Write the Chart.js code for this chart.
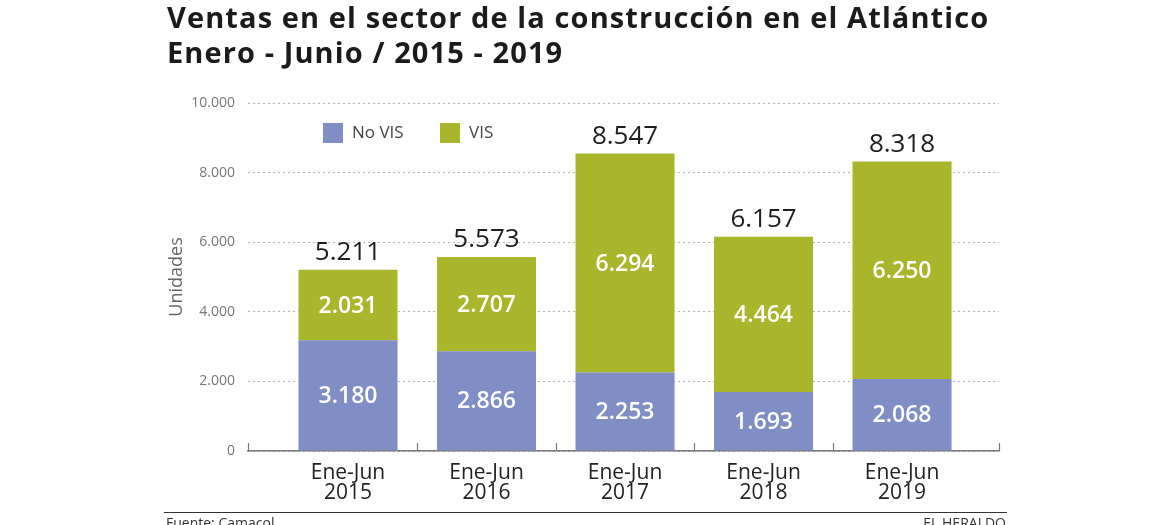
<!DOCTYPE html>
<html>
<head>
<meta charset="utf-8">
<script src="https://cdn.jsdelivr.net/npm/chart.js@4.4.1/dist/chart.umd.min.js"></script>
<style>
  html, body { margin:0; padding:0; background:#fff; width:1170px; height:525px; overflow:hidden; }
  #wrap { position:relative; width:1170px; height:525px; }
  #c { position:absolute; left:0; top:0; }
  .title { position:absolute; left:167px; font-family:"Open Sans", sans-serif; font-weight:700; font-size:29px; letter-spacing:1.1px; color:#1b1b1b; white-space:nowrap; line-height:35px; }
  .foot { position:absolute; top:512px; left:164px; width:843px; height:0; border-top:1.5px solid #333; }
  .src { position:absolute; top:513px; font-family:"Open Sans", sans-serif; font-size:14px; color:#333; }
</style>
</head>
<body>
<div id="wrap">
  <canvas id="c" width="1170" height="525"></canvas>
  <div class="title" id="t" style="top:-1px;">Ventas en el sector de la construcción en el Atlántico<br>Enero - Junio / 2015 - 2019</div>
  <div class="foot"></div>
  <div class="src" style="left:166px;">Fuente: Camacol</div>
  <div class="src" style="right:164px;">EL HERALDO</div>
</div>
<script>
const categories = [["Ene-Jun","2015"],["Ene-Jun","2016"],["Ene-Jun","2017"],["Ene-Jun","2018"],["Ene-Jun","2019"]];
const noVIS = [3180, 2866, 2253, 1693, 2068];
const vis = [2031, 2707, 6294, 4464, 6250];
const yTicks = [0, 2000, 4000, 6000, 8000, 10000];

function fmt(n){ return String(n).replace(/\B(?=(\d{3})+(?!\d))/g, "."); }

const X_MIN = -0.722, X_MAX = 4.70;

const boundaryTicks = {
  id:'boundaryTicks',
  afterDraw(chart){
    const ctx = chart.ctx, xs = chart.scales.x, ys = chart.scales.y;
    const y0 = ys.getPixelForValue(0);
    ctx.save();
    ctx.strokeStyle = '#777'; ctx.lineWidth = 1.2;
    const vals = [X_MIN];
    for (let i=0;i<categories.length-1;i++) vals.push(i+0.5);
    vals.push(X_MAX);
    vals.forEach(v=>{
      const px = Math.round(xs.getPixelForValue(v))+0.5;
      ctx.beginPath(); ctx.moveTo(px, y0); ctx.lineTo(px, y0-8); ctx.stroke();
    });
    ctx.restore();
  }
};

const labelsPlugin = {
  id:'valLabels',
  afterDatasetsDraw(chart){
    const ctx = chart.ctx;
    ctx.save();
    ctx.textAlign = 'center'; ctx.textBaseline = 'middle';
    chart.data.datasets.forEach((ds, di)=>{
      const meta = chart.getDatasetMeta(di);
      meta.data.forEach((bar, i)=>{
        const top = Math.min(bar.y, bar.base), bot = Math.max(bar.y, bar.base);
        ctx.fillStyle = '#ffffff';
        ctx.font = '600 23px "Open Sans", sans-serif';
        ctx.fillText(fmt(ds.data[i].y), bar.x, (top+bot)/2 + 1);
      });
    });
    const last = chart.getDatasetMeta(chart.data.datasets.length-1);
    ctx.fillStyle = '#1e1e1e';
    ctx.font = '400 26px "Open Sans", sans-serif';
    ctx.textBaseline = 'alphabetic';
    last.data.forEach((bar, i)=>{
      const total = noVIS[i] + vis[i];
      ctx.fillText(fmt(total), bar.x, Math.min(bar.y, bar.base) - 10);
    });
    ctx.restore();
  }
};

const legendPlugin = {
  id:'inLegend',
  afterDraw(chart){
    const ctx = chart.ctx, a = chart.chartArea;
    ctx.save();
    ctx.font = '400 17px "Open Sans", sans-serif';
    ctx.textBaseline = 'middle'; ctx.textAlign = 'left';
    let x = a.left + 75;
    const y = a.top + 20;
    chart.data.datasets.forEach(ds=>{
      ctx.fillStyle = ds.backgroundColor;
      ctx.fillRect(x, y, 20, 20);
      ctx.fillStyle = '#444';
      ctx.fillText(ds.label, x + 29, y + 10);
      x += 117;
    });
    ctx.restore();
  }
};

new Chart(document.getElementById('c'), {
  type:'bar',
  data:{
    datasets:[
      { label:'No VIS', data: noVIS.map((v,i)=>({x:i, y:v})), backgroundColor:'#7f8ec4', barPercentage:0.715, categoryPercentage:1 },
      { label:'VIS', data: vis.map((v,i)=>({x:i, y:v})), backgroundColor:'#a9b52a', barPercentage:0.715, categoryPercentage:1 }
    ]
  },
  options:{
    responsive:false, animation:false, devicePixelRatio:1,
    layout:{ padding:{ left:160, right:171, top:103, bottom:0 } },
    plugins:{ legend:{display:false}, tooltip:{enabled:false}, title:{display:false} },
    scales:{
      x:{
        type:'linear', stacked:true, min:X_MIN, max:X_MAX, offset:false,
        afterBuildTicks(s){ s.ticks = categories.map((c,i)=>({value:i})); },
        afterFit(s){ s.height = 74; },
        grid:{ display:false },
        border:{ display:true, color:'#777', width:1.5 },
        ticks:{ padding:4, color:'#222', font:{ family:'"Open Sans", sans-serif', size:21, lineHeight:0.96 },
          callback(v){ return categories[v] || ''; }, autoSkip:false, maxRotation:0 }
      },
      y:{
        stacked:true, min:0, max:10000,
        afterBuildTicks(s){ s.ticks = yTicks.map(v=>({value:v})); },
        afterFit(s){ s.width = 88; },
        grid:{ color:'#b5b5b5', lineWidth:1, drawTicks:false },
        border:{ display:false, dash:[2,3] },
        ticks:{ padding:13, color:'#777', font:{ family:'"Open Sans", sans-serif', size:14 }, callback(v){ return fmt(v); } },
        title:{ display:true, text:'Unidades', color:'#666', font:{ family:'"Open Sans", sans-serif', size:18 }, padding:{top:6,bottom:0} }
      }
    }
  },
  plugins:[boundaryTicks, labelsPlugin, legendPlugin]
});
</script>
</body>
</html>
